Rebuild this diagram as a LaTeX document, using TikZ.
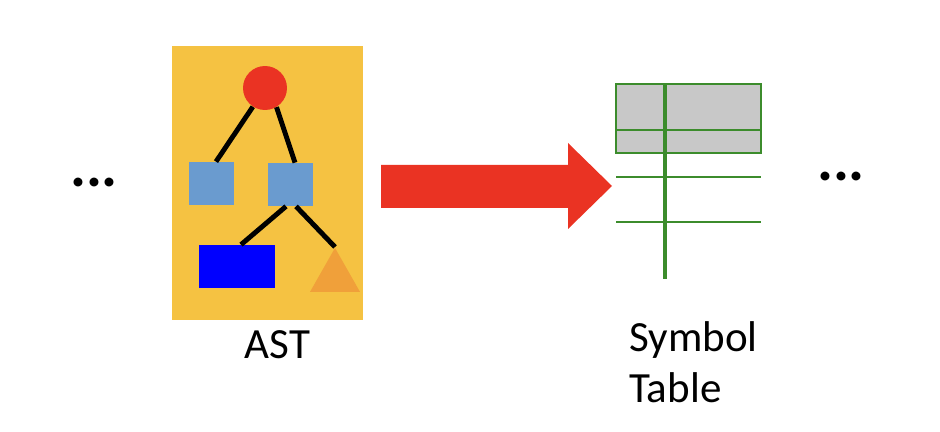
\documentclass[tikz,border=0pt]{standalone}
\usepackage{fontspec}
\setmainfont{Carlito}
\usetikzlibrary{calc}
\usetikzlibrary{positioning}
\usetikzlibrary{shapes.geometric}

\definecolor{astyellow}{HTML}{F5C242}
\definecolor{rootred}{HTML}{EA3323}
\definecolor{leafblue}{HTML}{6A9BCF}
\definecolor{deepblue}{HTML}{0000FF}
\definecolor{triorange}{HTML}{F0A03A}
\definecolor{tabgreen}{HTML}{3C8C2C}
\definecolor{tabgray}{HTML}{C8C8C8}

\begin{document}
\begin{tikzpicture}[x=0.02cm,y=-0.02cm,
    treeline/.style={line width=2.8pt},
    sqnode/.style={rectangle,fill=leafblue,inner sep=0pt,minimum width=0.9cm,minimum height=0.86cm},
    bigtext/.style={font=\fontsize{24.5}{28.5}\selectfont,inner sep=0pt}]
    \useasboundingbox (0,0) rectangle (940,432);
    % AST box
    \node[fill=astyellow,inner sep=0pt,minimum width=3.82cm,minimum height=5.48cm] (astbox) at (267.5,183) {};
    \node[circle,fill=rootred,inner sep=0pt,minimum size=0.88cm] (root) at (265,88) {};
    \node[sqnode] (lsq) at (211.5,183.5) {};
    \node[sqnode] (rsq) at (290.5,184.5) {};
    \node[rectangle,fill=deepblue,inner sep=0pt,minimum width=1.52cm,minimum height=0.86cm] (brect) at (237,266.5) {};
    \node[isosceles triangle,shape border rotate=90,isosceles triangle stretches,fill=triorange,inner sep=0pt,minimum width=1cm,minimum height=0.88cm,anchor=apex] (tri) at (335,247) {};
    \draw[treeline] (root.237) -- ($(lsq.north)+(4.5,0)$);
    \draw[treeline] (root.301) -- ($(rsq.north)+(4.5,0)$);
    \draw[treeline] ($(rsq.south)+(-4.5,0)$) -- ($(brect.north)+(4,0)$);
    \draw[treeline] ($(rsq.south)+(5.5,0)$) -- (tri.apex);
    \node[bigtext] (astlbl) at (277.5,345) {AST};
    % big red arrow
    \fill[rootred] (381,165) -- (568,165) -- (568,143) -- (612,186) -- (568,229) -- (568,208) -- (381,208) -- cycle;
    % symbol table
    \fill[tabgray] (616,84) rectangle (761,153);
    \draw[tabgreen,line width=1.4pt] (616,84) rectangle (761,153);
    \draw[tabgreen,line width=1.4pt] (616,130) -- (761,130);
    \draw[tabgreen,line width=1.4pt] (616,177) -- (761,177);
    \draw[tabgreen,line width=1.4pt] (616,222) -- (761,222);
    \draw[tabgreen,line width=2pt] (665,84) -- (665,279);
    \node[bigtext,anchor=base west,align=left] (symlbl) at (629,402) {Symbol\\Table};
    % dots
    \node[font=\fontsize{34}{40}\selectfont\bfseries,inner sep=0pt] (ldots) at (94,183) {...};
    \node[font=\fontsize{34}{40}\selectfont\bfseries,inner sep=0pt] (rdots) at (841,177) {...};
\end{tikzpicture}
\end{document}
